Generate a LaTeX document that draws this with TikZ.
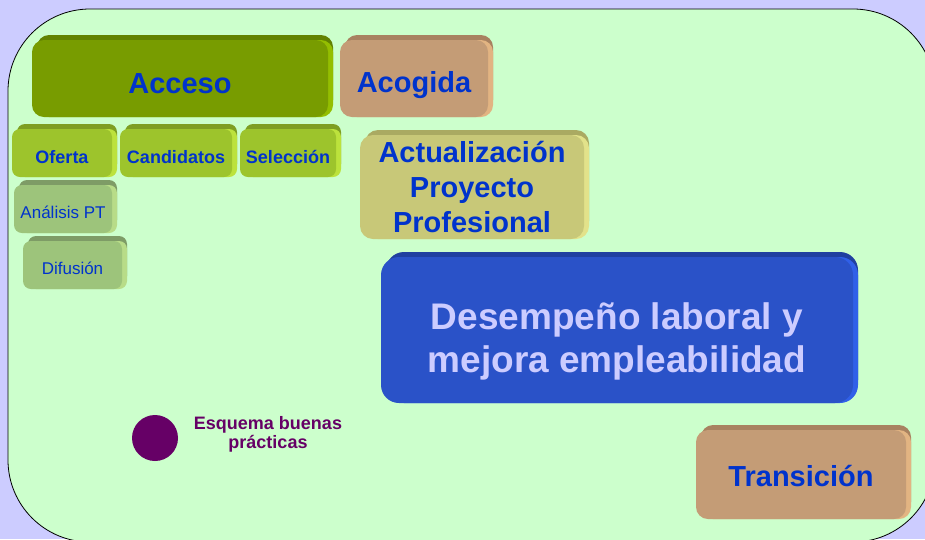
\documentclass[tikz,border=0pt]{standalone}
\usepackage{fontspec}
\setmainfont{Liberation Sans}
\usetikzlibrary{shadows}
\definecolor{bgl}{HTML}{CCCCFF}
\definecolor{areag}{HTML}{CCFFCC}
\definecolor{tblue}{HTML}{0033CC}
\definecolor{tlav}{HTML}{CCCCFF}
\definecolor{tplum}{HTML}{660066}
\definecolor{accF}{HTML}{789C00}\definecolor{accT}{HTML}{628200}\definecolor{accR}{HTML}{94BE00}
\definecolor{limF}{HTML}{9DC42C}\definecolor{limT}{HTML}{7E9E22}\definecolor{limR}{HTML}{BCE23C}
\definecolor{sagF}{HTML}{9DC47B}\definecolor{sagT}{HTML}{7E9C66}\definecolor{sagR}{HTML}{B8DC88}
\definecolor{tanF}{HTML}{C49C76}\definecolor{tanT}{HTML}{A88260}\definecolor{tanR}{HTML}{E2B482}
\definecolor{khaF}{HTML}{C8C878}\definecolor{khaT}{HTML}{AAAA62}\definecolor{khaR}{HTML}{E2E28A}
\definecolor{bluF}{HTML}{2A52C8}\definecolor{bluT}{HTML}{2040A0}\definecolor{bluR}{HTML}{3060E8}
\newcommand{\boxtext}[2]{\raisebox{#1}[0pt][0pt]{\begin{tabular}[t]{@{}c@{}}#2\end{tabular}}}
\begin{document}
\begin{tikzpicture}[x=1pt,y=-1pt,
  solid3d/.style n args={3}{fill=#1,
    general shadow={fill=#2, shadow xshift=5pt, shadow yshift=5pt},
    general shadow={fill=#3, shadow xshift=5pt}},
  box/.style={inner sep=0pt, text=tblue},
  bigfont/.style={font=\bfseries\fontsize{29}{35}\selectfont},
  midfont/.style={font=\bfseries\fontsize{18}{19}\selectfont},
  regfont/.style={font=\fontsize{17}{19}\selectfont},
  accbox/.style={box, solid3d={accF}{accT}{accR}, rounded corners=12pt, bigfont},
  limbox/.style={box, solid3d={limF}{limT}{limR}, rounded corners=8pt, midfont, minimum height=48pt},
  sagbox/.style={box, solid3d={sagF}{sagT}{sagR}, rounded corners=8pt, regfont, minimum height=48pt},
  tanbox/.style={box, solid3d={tanF}{tanT}{tanR}, rounded corners=12pt, bigfont},
  khabox/.style={box, solid3d={khaF}{khaT}{khaR}, rounded corners=13pt, bigfont},
  blubox/.style={box, solid3d={bluF}{bluT}{bluR}, rounded corners=18pt, text=tlav,
    font=\bfseries\fontsize{37}{43}\selectfont}]
\useasboundingbox (0,0) rectangle (925,539);
\clip (0,0) rectangle (925,539);
\fill[bgl] (0,0) rectangle (925,539);
\draw[fill=areag, draw=black, line width=0.8pt, rounded corners=82pt] (8,9) rectangle (935,542);

\node[accbox, minimum width=296pt, minimum height=77pt] (acceso) at (180,78.5) {\boxtext{-14.5pt}{Acceso}};
\node[tanbox, minimum width=148pt, minimum height=77pt] (acogida) at (414,78.5) {\boxtext{-13.5pt}{Acogida}};

\node[limbox, minimum width=100pt] (oferta) at (62,153) {\boxtext{-10pt}{Oferta}};
\node[limbox, minimum width=112pt] (candidatos) at (176,153) {\boxtext{-10pt}{Candidatos}};
\node[limbox, minimum width=96pt] (seleccion) at (288,153) {\boxtext{-10pt}{Selección}};

\node[sagbox, minimum width=98pt] (analisis) at (63,209) {\boxtext{-9pt}{Análisis PT}};
\node[sagbox, minimum width=99pt] (difusion) at (72.5,265) {\boxtext{-9pt}{Difusión}};

\node[khabox, minimum width=224pt, minimum height=104pt] (actualizacion) at (472,187)
  {\boxtext{25pt}{Actualización\\Proyecto\\Profesional}};

\node[blubox, minimum width=472pt, minimum height=146pt] (desempeno) at (617,330)
  {\boxtext{1pt}{Desempeño laboral y\\mejora empleabilidad}};

\node[tanbox, minimum width=210pt, minimum height=89pt] (transicion) at (801,474.5) {\boxtext{-11.5pt}{Transición}};

\node[circle, fill=tplum, inner sep=0pt, minimum size=46pt] (punto) at (155,438) {};
\node[inner sep=0pt, text=tplum, midfont] (esquema) at (268,429) {\boxtext{0pt}{Esquema buenas\\prácticas}};
\end{tikzpicture}
\end{document}
